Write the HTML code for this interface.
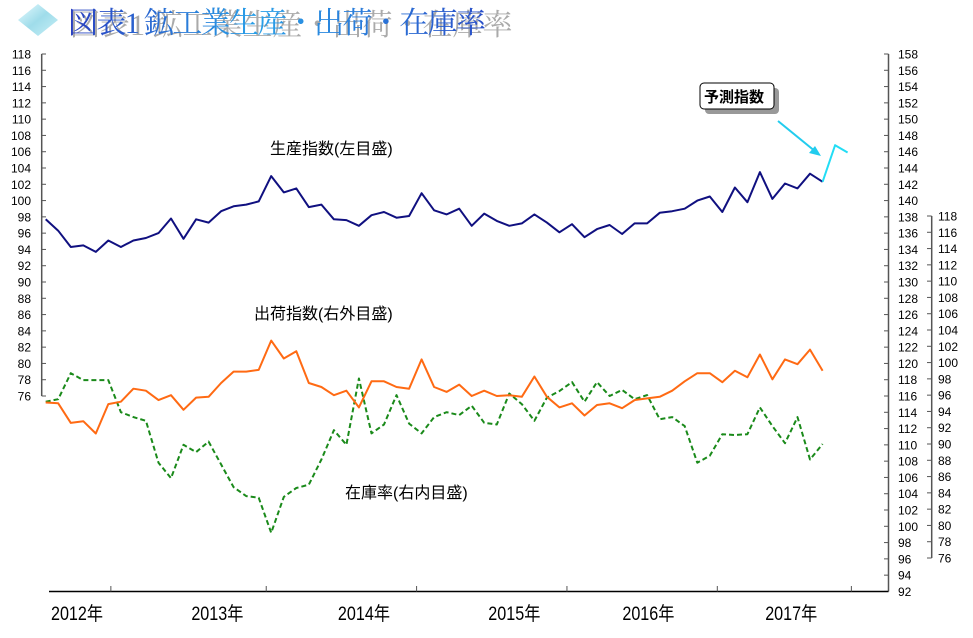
<!DOCTYPE html>
<html><head><meta charset="utf-8">
<style>
body{margin:0;background:#fff;width:973px;height:638px;overflow:hidden;font-family:"Liberation Sans","Noto Sans CJK JP",sans-serif;}
svg{display:block}
</style></head>
<body>
<svg id="chart" width="973" height="638" viewBox="0 0 973 638" xmlns="http://www.w3.org/2000/svg">
<defs>
<linearGradient id="dg" x1="0" y1="0" x2="1" y2="1"><stop offset="0" stop-color="#e8fbff"/><stop offset="0.5" stop-color="#9fdcea"/><stop offset="1" stop-color="#c9f0f7"/></linearGradient>
<linearGradient id="tg" x1="0" y1="0" x2="1" y2="0"><stop offset="0" stop-color="#2a3fc0"/><stop offset="0.45" stop-color="#2aa0e8"/><stop offset="1" stop-color="#2a4fc8"/></linearGradient>
</defs>
<g>
<polygon points="38,4 58,20 38,36 18,20" fill="url(#dg)"/>
<text x="68" y="33" font-family="'Liberation Serif','Noto Serif CJK JP',serif" font-size="30" fill="#aaa" transform="translate(2,2)">図表1 鉱工業生産・出荷・在庫率</text>
<text x="68" y="33" font-family="'Liberation Serif','Noto Serif CJK JP',serif" font-size="30" fill="url(#tg)" textLength="418">図表1 鉱工業生産・出荷・在庫率</text>
</g>
<g id="axes"></g>
<g id="series"></g>
<g font-size="16" fill="#000">
<text x="270" y="154">生産指数(左目盛)</text>
<text x="254" y="319">出荷指数(右外目盛)</text>
<text x="345" y="498">在庫率(右内目盛)</text>
<rect x="705" y="88" width="74" height="26" rx="4" fill="#999"/>
<rect x="700" y="83" width="74" height="26" rx="4" fill="#fff" stroke="#000" stroke-width="1"/>
<text x="704" y="102" font-size="15" font-weight="bold">予測指数</text>
<line x1="778" y1="121" x2="816" y2="152" stroke="#22ccee" stroke-width="2"/>
<polygon points="821,156 809,153 815,146" fill="#22ccee"/>
</g>
</svg>
<script>
const months = Array.from({length:63},(_,i)=>i);
const production = [97.7,96.3,94.3,94.5,93.7,95.1,94.3,95.1,95.4,96.0,97.8,95.3,97.7,97.3,98.7,99.3,99.5,99.9,103.0,101.0,101.5,99.2,99.5,97.7,97.6,96.9,98.2,98.6,97.9,98.1,100.9,98.8,98.3,99.0,96.9,98.4,97.5,96.9,97.2,98.3,97.3,96.1,97.1,95.5,96.5,97.0,95.9,97.2,97.2,98.5,98.7,99.0,100.0,100.5,98.6,101.6,99.8,103.5,100.2,102.1,101.5,103.3,102.3];
const forecast = [102.3,106.8,105.9];
const shipments = [115.2,115.1,112.7,112.9,111.4,115.0,115.3,116.9,116.65,115.5,116.1,114.3,115.8,115.9,117.6,119.0,119.0,119.2,122.8,120.6,121.5,117.6,117.1,116.1,116.65,114.6,117.8,117.8,117.1,116.9,120.5,117.1,116.5,117.4,116.0,116.65,116.0,116.1,115.9,118.4,115.9,114.6,115.1,113.6,114.9,115.1,114.5,115.5,115.7,115.9,116.65,117.8,118.8,118.8,117.7,119.1,118.3,121.1,118.05,120.5,119.9,121.7,119.1];
const inventory = [95.2,95.5,98.7,97.85,97.85,97.85,93.9,93.3,92.85,87.7,85.8,89.9,89.0,90.3,87.5,84.7,83.6,83.4,79.1,83.5,84.6,85.0,88.1,91.7,89.9,98.05,91.3,92.4,96.0,92.5,91.3,93.3,93.9,93.55,94.7,92.6,92.4,96.2,94.9,92.85,95.7,96.5,97.6,95.2,97.6,95.9,96.65,95.5,96.0,93.05,93.3,92.2,87.7,88.55,91.2,91.1,91.2,94.5,92.2,90.1,93.3,88.1,90.0];
const leftTicks = [118,116,114,112,110,108,106,104,102,100,98,96,94,92,90,88,86,84,82,80,78,76];
const outerTicks = [158,156,154,152,150,148,146,144,142,140,138,136,134,132,130,128,126,124,122,120,118,116,114,112,110,108,106,104,102,100,98,96,94,92];
const innerTicks = [118,116,114,112,110,108,106,104,102,100,98,96,94,92,90,88,86,84,82,80,78,76];
const yearLabels = ["2012年","2013年","2014年","2015年","2016年","2017年"];
const yearLabelPos = [2.5,13.7,25.4,37.4,48.1,59.5];
const yearTickPos = [5.2,17.6,29.6,41.6,53.6,64.3];

const NS="http://www.w3.org/2000/svg";
const PX=8.143;
const x = i => 45.7 + i*12.53;
const yL = v => 54 + (118-v)*PX;
const yO = v => 54 + (158-v)*PX;
const yI = v => 216 + (118-v)*PX;
function mk(tag, attrs, parent, txt){const e=document.createElementNS(NS,tag);for(const k in attrs)e.setAttribute(k,attrs[k]);if(txt!==undefined)e.textContent=txt;parent.appendChild(e);return e;}
const axes=document.getElementById('axes'), ser=document.getElementById('series');

// left axis
let la=mk('line',{x1:41.7,y1:yL(118),x2:41.7,y2:yL(76),stroke:'#555','stroke-width':1.5},axes);


leftTicks.forEach(v=>{
  mk('line',{x1:41.7,y1:yL(v),x2:46,y2:yL(v),stroke:'#555'},axes);
  const t=mk('text',{x:31,y:yL(v)+4.5,'text-anchor':'end','font-size':12,fill:'#000'},axes,String(v));
  
  
});
// outer right axis
let oa=mk('line',{x1:888.5,y1:yO(158),x2:888.5,y2:yO(92),stroke:'#555','stroke-width':1.5},axes);


outerTicks.forEach(v=>{
  mk('line',{x1:884,y1:yO(v),x2:888.5,y2:yO(v),stroke:'#555'},axes);
  const t=mk('text',{x:898,y:yO(v)+4.5,'font-size':12,fill:'#000'},axes,String(v));
  
  
});
// inner right axis
let ia=mk('line',{x1:931.7,y1:yI(118),x2:931.7,y2:yI(76),stroke:'#555','stroke-width':1.5},axes);


innerTicks.forEach(v=>{
  mk('line',{x1:927,y1:yI(v),x2:931.7,y2:yI(v),stroke:'#555'},axes);
  const t=mk('text',{x:938,y:yI(v)+4.5,'font-size':12,fill:'#000'},axes,String(v));
  
  
});
// x axis
let xa=mk('line',{x1:49,y1:591.5,x2:888.5,y2:591.5,stroke:'#000','stroke-width':1.5},axes);


yearTickPos.forEach(p=>{mk('line',{x1:x(p),y1:586,x2:x(p),y2:591.5,stroke:'#555'},axes);});
yearLabels.forEach((s,i)=>{
  const t=mk('text',{x:x(yearLabelPos[i]),y:620,'text-anchor':'middle','font-size':19,fill:'#000',transform:`translate(${x(yearLabelPos[i])},0) scale(0.85,1) translate(${-x(yearLabelPos[i])},0)`},axes,s);
  
  
});
// series
function line(vals, xoff, yf, color, dash, name){
  const pts=vals.map((v,i)=>x(i+xoff).toFixed(1)+','+yf(v).toFixed(1)).join(' ');
  const p=mk('polyline',{points:pts,fill:'none',stroke:color,'stroke-width':2,'stroke-linejoin':'round'},ser);
  if(dash)p.setAttribute('stroke-dasharray',dash);
  
  
}
line(inventory,0,yI,'#1a8a1a','5,3','inventory-ratio-line');
line(shipments,0,yO,'#ff6a13',null,'shipments-index-line');
line(production,0,yL,'#101080',null,'production-index-line');
line(forecast,62,yL,'#22ddf5',null,'forecast-index-line');
</script>
</body></html>
